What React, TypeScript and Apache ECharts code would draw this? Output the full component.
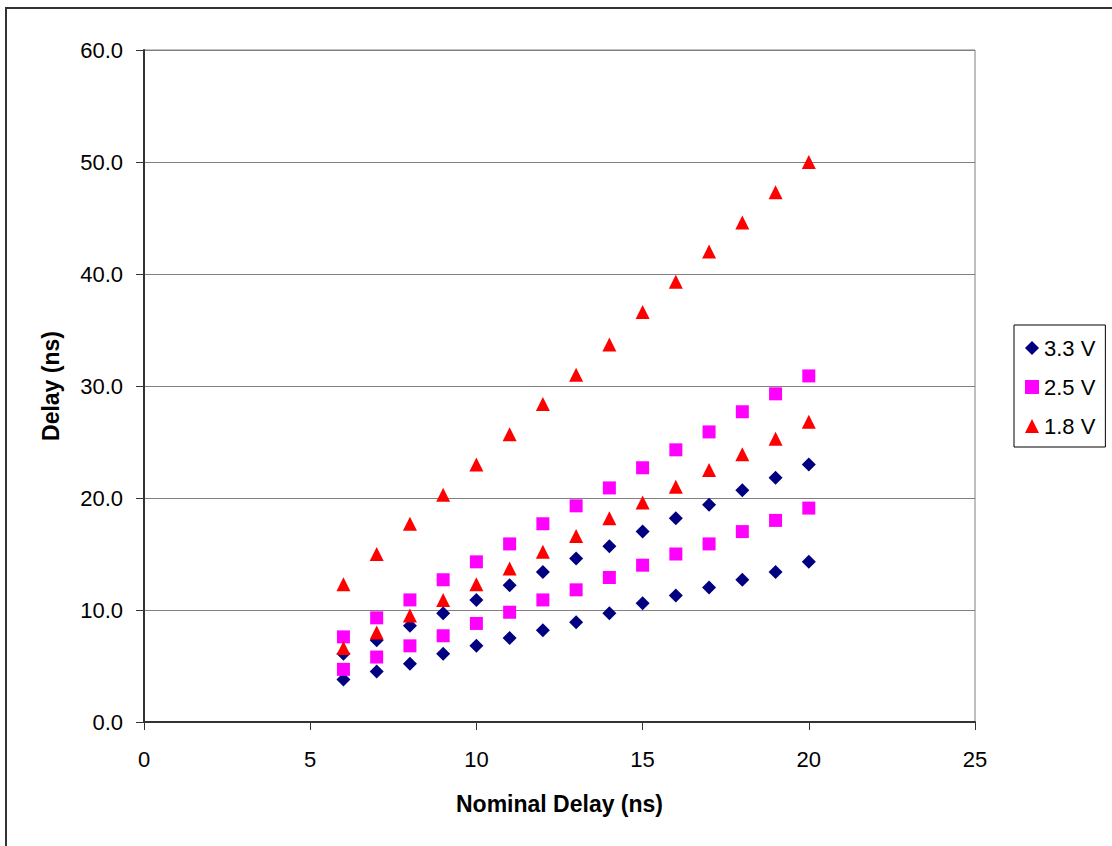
import React, { useEffect, useRef } from "react";
import * as echarts from "echarts";

const nominal = [6, 7, 8, 9, 10, 11, 12, 13, 14, 15, 16, 17, 18, 19, 20];

const v33High = [6.1, 7.3, 8.6, 9.7, 10.9, 12.2, 13.4, 14.6, 15.7, 17.0, 18.2, 19.4, 20.7, 21.8, 23.0];
const v33Low = [3.8, 4.5, 5.2, 6.1, 6.8, 7.5, 8.2, 8.9, 9.7, 10.6, 11.3, 12.0, 12.7, 13.4, 14.3];

const v25High = [7.6, 9.3, 10.9, 12.7, 14.3, 15.9, 17.7, 19.3, 20.9, 22.7, 24.3, 25.9, 27.7, 29.3, 30.9];
const v25Low = [4.7, 5.8, 6.8, 7.7, 8.8, 9.8, 10.9, 11.8, 12.9, 14.0, 15.0, 15.9, 17.0, 18.0, 19.1];

const v18High = [12.3, 15.0, 17.7, 20.3, 23.0, 25.7, 28.4, 31.0, 33.7, 36.6, 39.3, 42.0, 44.6, 47.3, 50.0];
const v18Low = [6.6, 8.0, 9.5, 10.9, 12.3, 13.7, 15.2, 16.6, 18.2, 19.6, 21.0, 22.5, 23.9, 25.3, 26.8];

const seriesNames = ["3.3 V", "2.5 V", "1.8 V"];
const yTicks = { min: 0, max: 60, interval: 10 };
const xTicks = { min: 0, max: 25, interval: 5 };

function pairs(high: number[], low: number[]) {
  const out: number[][] = [];
  nominal.forEach((x, i) => {
    out.push([x, high[i]]);
    out.push([x, low[i]]);
  });
  return out;
}

const FONT = "'Liberation Sans', Arial, sans-serif";

export default function App() {
  const ref = useRef<HTMLDivElement>(null);
  useEffect(() => {
    if (!ref.current) return;
    const chart = echarts.init(ref.current, undefined, { renderer: "svg" });
    chart.setOption({
      animation: false,
      backgroundColor: "#ffffff",
      textStyle: { fontFamily: FONT },
      grid: {
        left: 144,
        right: 137,
        top: 50,
        bottom: 124,
        show: true,
        borderColor: "#808080",
        borderWidth: 1,
      },
      legend: {
        orient: "vertical",
        left: 1014,
        top: 325,
        width: 94,
        padding: [10, 10, 8, 11],
        itemWidth: 14,
        itemHeight: 14,
        itemGap: 13,
        itemTextGap: 10,
        borderColor: "#000000",
        borderWidth: 1,
        textStyle: { fontSize: 22, color: "#000", fontFamily: FONT, lineHeight: 26 },
        data: [
          { name: seriesNames[0], icon: "diamond" },
          { name: seriesNames[1], icon: "rect" },
          { name: seriesNames[2], icon: "triangle" },
        ],
      },
      xAxis: {
        type: "value",
        min: xTicks.min,
        max: xTicks.max,
        interval: xTicks.interval,
        name: "Nominal Delay (ns)",
        nameLocation: "middle",
        nameGap: 70,
        nameTextStyle: { fontSize: 23, fontWeight: "bold", color: "#000", fontFamily: FONT },
        axisLine: { show: true, lineStyle: { color: "#333333", width: 2 } },
        axisTick: { show: true, inside: false, length: 8, lineStyle: { color: "#333333", width: 1 } },
        axisLabel: { fontSize: 22, color: "#000", margin: 26, fontFamily: FONT },
        splitLine: { show: false },
      },
      yAxis: {
        type: "value",
        min: yTicks.min,
        max: yTicks.max,
        interval: yTicks.interval,
        name: "Delay (ns)",
        nameLocation: "middle",
        nameGap: 82,
        nameTextStyle: { fontSize: 23, fontWeight: "bold", color: "#000", fontFamily: FONT },
        axisLine: { show: true, lineStyle: { color: "#333333", width: 2 } },
        axisTick: { show: true, inside: false, length: 8, lineStyle: { color: "#333333", width: 1 } },
        axisLabel: {
          fontSize: 22,
          color: "#000",
          margin: 21,
          fontFamily: FONT,
          formatter: (v: number) => v.toFixed(1),
        },
        splitLine: { show: true, lineStyle: { color: "#808080", width: 1 } },
      },
      graphic: [
        { type: "line", shape: { x1: 6, y1: 8, x2: 1112, y2: 8 }, style: { stroke: "#333333", lineWidth: 2 } },
        { type: "line", shape: { x1: 6, y1: 7, x2: 6, y2: 846 }, style: { stroke: "#333333", lineWidth: 2 } },
      ],
      series: [
        {
          name: seriesNames[0],
          type: "scatter",
          symbol: "diamond",
          symbolSize: 14,
          itemStyle: { color: "#000080", opacity: 1 },
          data: pairs(v33High, v33Low),
        },
        {
          name: seriesNames[1],
          type: "scatter",
          symbol: "rect",
          symbolSize: 13,
          itemStyle: { color: "#FF00FF", opacity: 1 },
          data: pairs(v25High, v25Low),
        },
        {
          name: seriesNames[2],
          type: "scatter",
          symbol: "triangle",
          symbolSize: 14,
          itemStyle: { color: "#FF0000", opacity: 1 },
          data: pairs(v18High, v18Low),
        },
      ],
    });
    return () => chart.dispose();
  }, []);
  return (
    <div
      ref={ref}
      style={{ position: "fixed", left: 0, top: 0, width: 1112, height: 846, background: "#fff" }}
    />
  );
}
